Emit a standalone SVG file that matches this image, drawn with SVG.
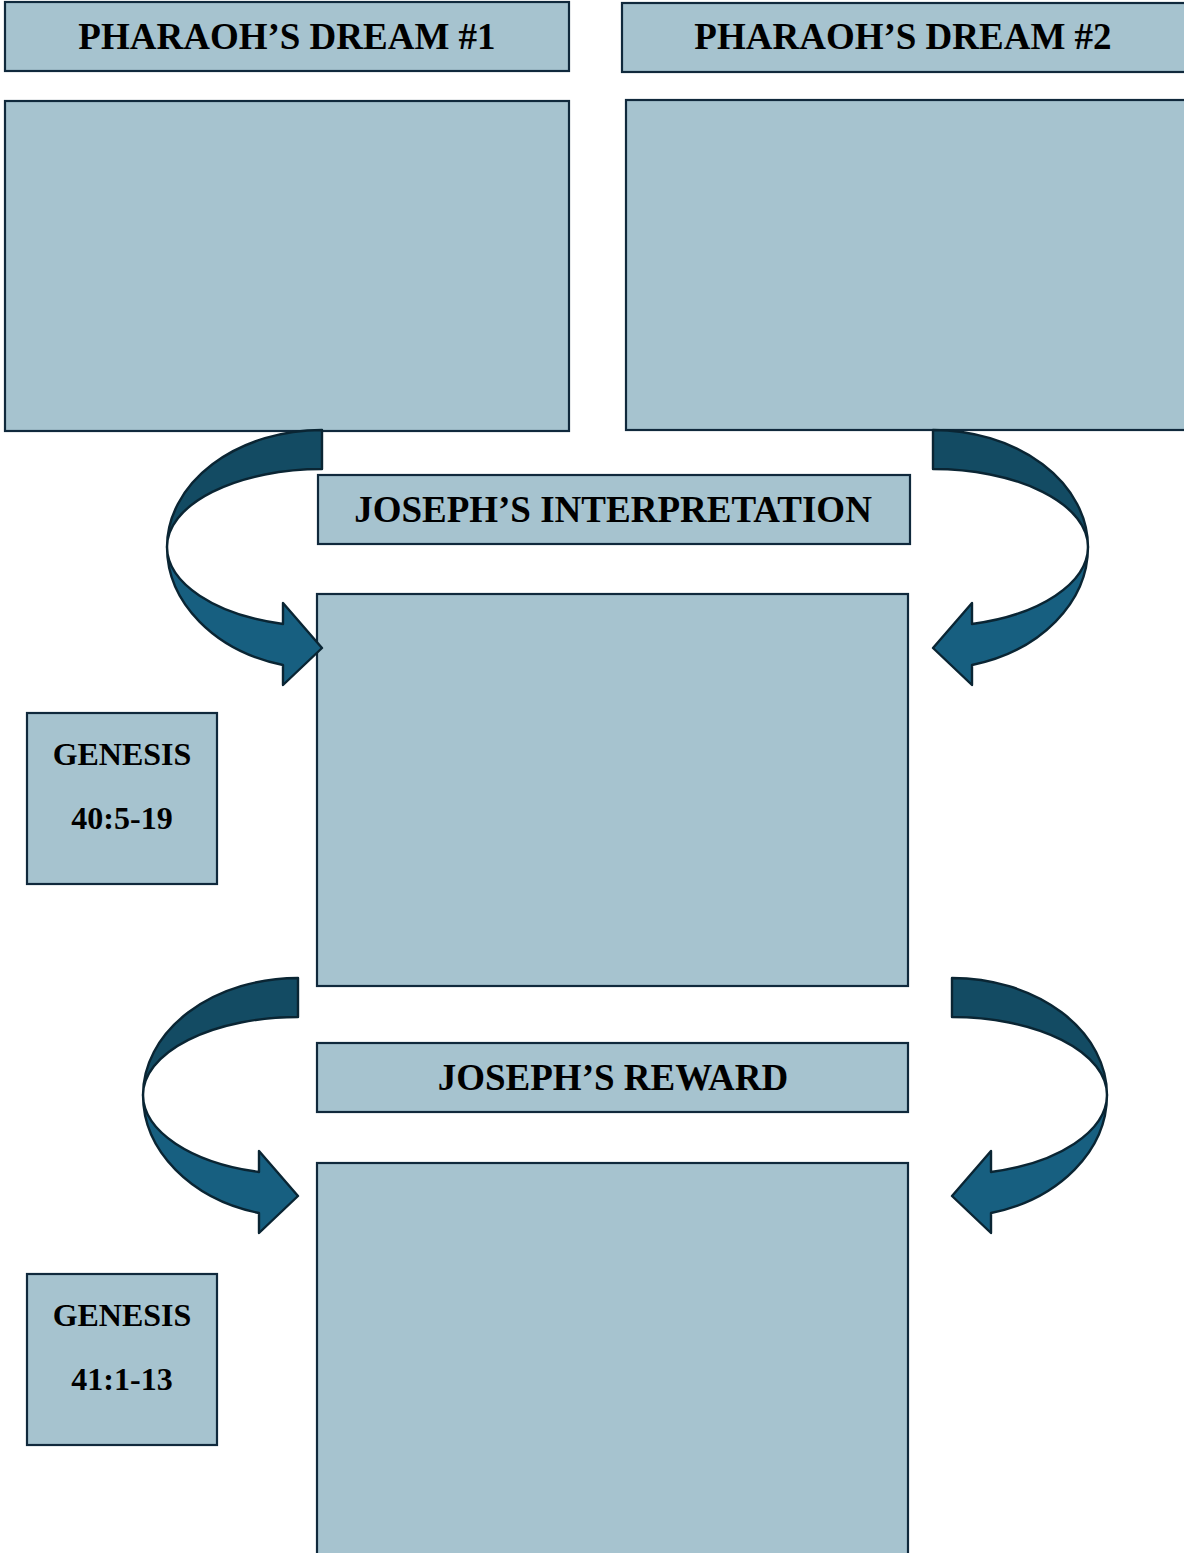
<svg xmlns="http://www.w3.org/2000/svg" xmlns:xlink="http://www.w3.org/1999/xlink" width="1184" height="1553" viewBox="0 0 1184 1553">
<style>
.box{fill:#a6c3cf;stroke:#10293c;stroke-width:2.2}
.t{font-family:"Liberation Serif","Times New Roman",serif;font-weight:bold;fill:#000;text-anchor:middle}
.big{font-size:37px}
.sm{font-size:32px}
.dk{fill:#134b63;stroke:#0a2533;stroke-width:2.4;stroke-linejoin:round}
.lt{fill:#175f80;stroke:#0a2533;stroke-width:2.4;stroke-linejoin:round}
</style>
<defs>
<g id="curvedArrow">
<path class="dk" d="M0,0 A155,117 0 0 0 -155,117 A155,78 0 0 1 0,39 Z"/>
<path class="lt" d="M-155,117 A155,122 0 0 0 -39,235 L-39,255 L0,218 L-39,173 L-39,194 A155,80 0 0 1 -155,117 Z"/>
</g>
</defs>
<rect width="1184" height="1553" fill="#fff"/>
<g id="title-dream1"><rect class="box" x="5" y="2" width="564" height="69"/><text class="t big" x="287" y="49">PHARAOH’S DREAM #1</text></g>
<g id="title-dream2"><rect class="box" x="622" y="3" width="566" height="69"/><text class="t big" x="903" y="49">PHARAOH’S DREAM #2</text></g>
<g id="box-dream1"><rect class="box" x="5" y="101" width="564" height="330"/></g>
<g id="box-dream2"><rect class="box" x="626" y="100" width="562" height="330"/></g>
<g id="title-interpretation"><rect class="box" x="318" y="475" width="592" height="69"/><text class="t big" x="613" y="522">JOSEPH’S INTERPRETATION</text></g>
<g id="box-interpretation"><rect class="box" x="317" y="594" width="591" height="392"/></g>
<g id="ref-genesis40"><rect class="box" x="27" y="713" width="190" height="171"/><text class="t sm" x="122" y="765">GENESIS</text><text class="t sm" x="122" y="829">40:5-19</text></g>
<g id="title-reward"><rect class="box" x="317" y="1043" width="591" height="69"/><text class="t big" x="613" y="1090">JOSEPH’S REWARD</text></g>
<g id="box-reward"><rect class="box" x="317" y="1163" width="591" height="400"/></g>
<g id="ref-genesis41"><rect class="box" x="27" y="1274" width="190" height="171"/><text class="t sm" x="122" y="1326">GENESIS</text><text class="t sm" x="122" y="1390">41:1-13</text></g>
<g id="connectors">
<use xlink:href="#curvedArrow" transform="translate(322,430)"/>
<use xlink:href="#curvedArrow" transform="translate(933,430) scale(-1,1)"/>
<use xlink:href="#curvedArrow" transform="translate(298,978)"/>
<use xlink:href="#curvedArrow" transform="translate(952,978) scale(-1,1)"/>
</g>
</svg>
